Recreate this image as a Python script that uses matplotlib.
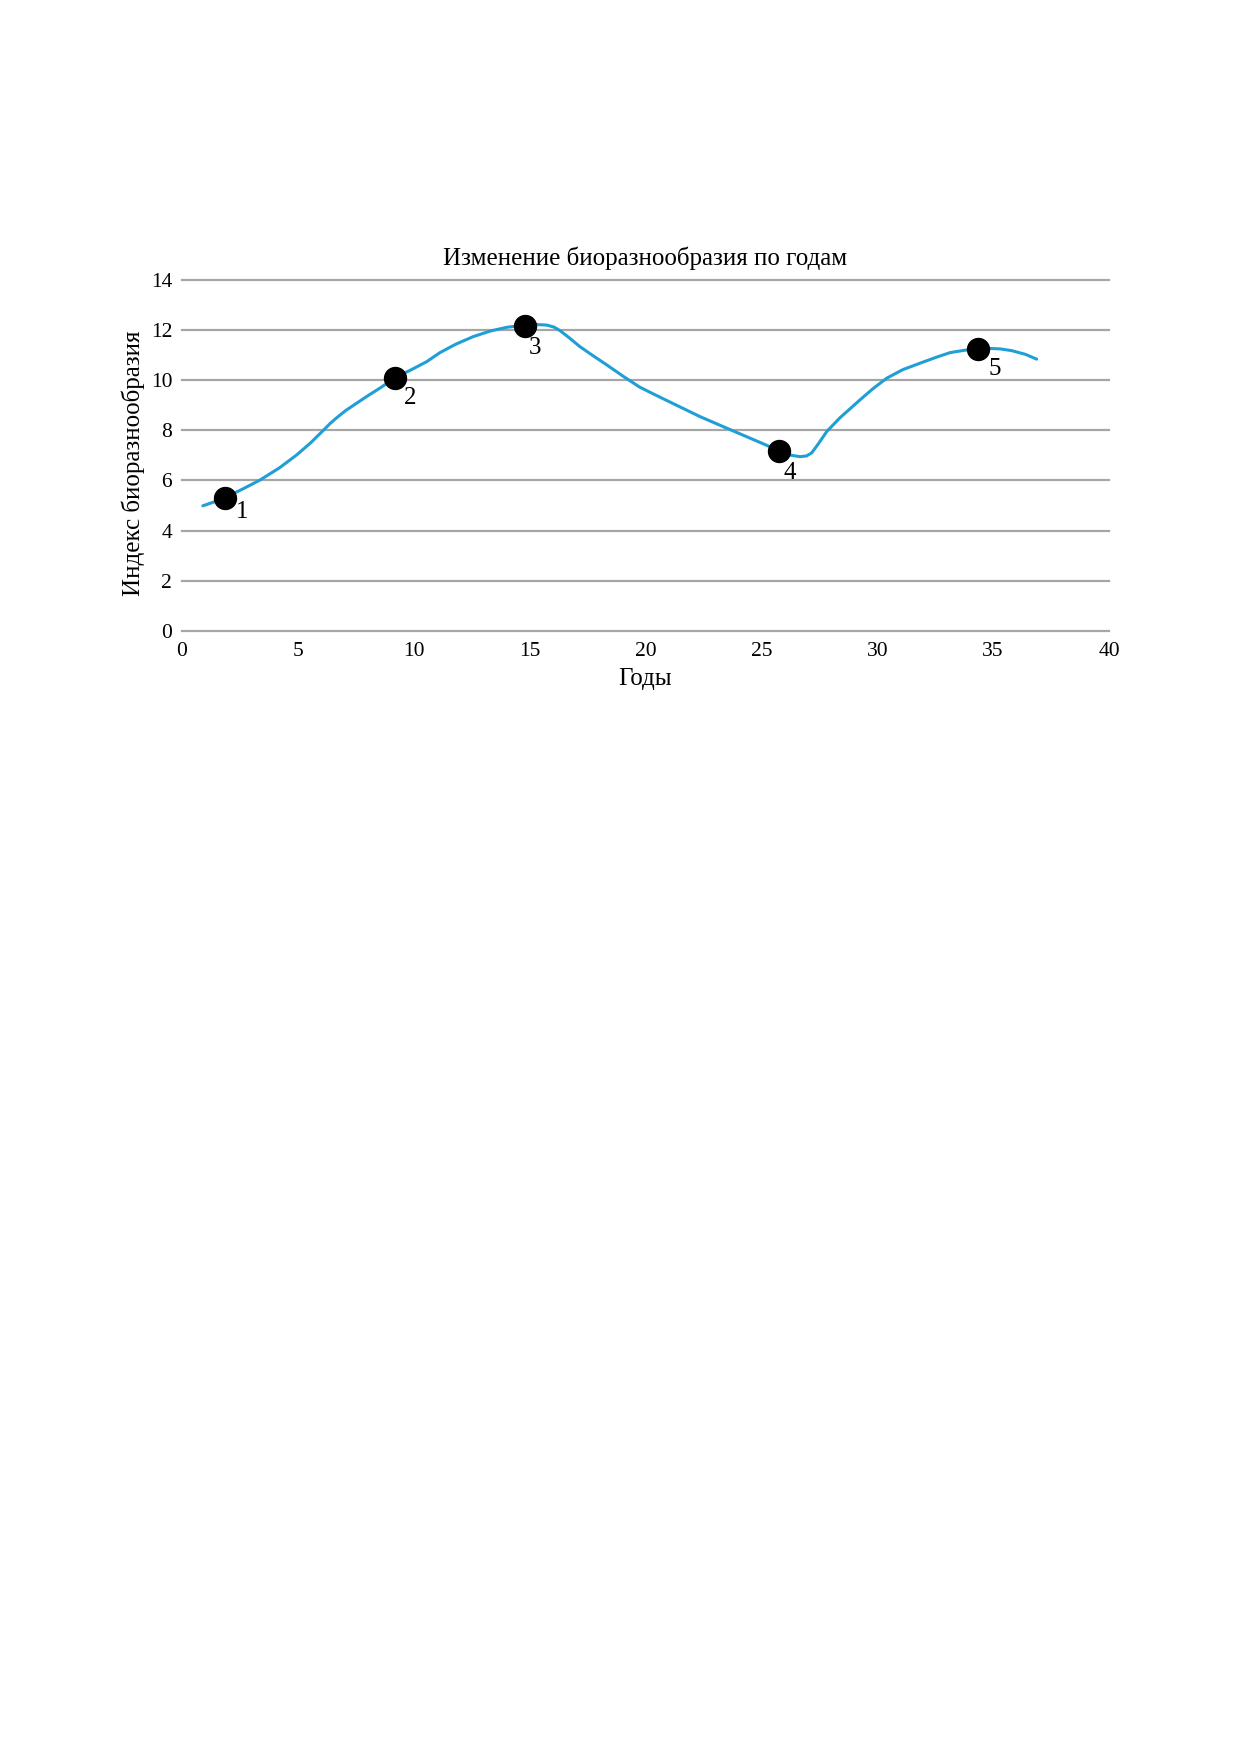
import matplotlib
matplotlib.use('Agg')
import matplotlib.pyplot as plt

# colours
BLUE = '#1f9fd6'
GRID = '#a6a6a6'

TITLE = 'Изменение биоразнообразия по годам'
X_LABEL = 'Годы'
Y_LABEL = 'Индекс биоразнообразия'

# curve
curve_x = [0.9, 1.4, 1.86, 2.6, 3.37, 4.2, 4.95, 5.55, 6.1, 6.4, 6.7, 7.05,
           7.5, 7.97, 8.6, 9.19, 9.9, 10.56, 11.13, 11.8, 12.57, 13.3, 14.01,
           14.8, 15.3, 15.74, 16.05, 16.31, 16.7, 17.17, 17.75, 18.33, 19.05,
           19.76, 20.5, 21.3, 22.35, 23.3, 24.08, 24.94, 25.76, 26.2, 26.67,
           26.95, 27.17, 27.45, 27.82, 28.39, 29.25, 29.8, 30.41, 31.1, 31.85,
           32.5, 33.14, 33.8, 34.33, 34.8, 35.3, 35.8, 36.4, 36.88]
curve_y = [4.99, 5.15, 5.32, 5.65, 6.02, 6.5, 7.02, 7.5, 8.0, 8.28, 8.52, 8.78,
           9.06, 9.35, 9.72, 10.1, 10.42, 10.74, 11.1, 11.43, 11.74, 11.96,
           12.11, 12.2, 12.22, 12.2, 12.12, 11.98, 11.7, 11.34, 10.97, 10.61,
           10.15, 9.72, 9.38, 9.02, 8.55, 8.17, 7.86, 7.52, 7.19, 7.02, 6.95,
           6.98, 7.1, 7.45, 7.95, 8.5, 9.21, 9.65, 10.08, 10.42, 10.68, 10.9,
           11.1, 11.2, 11.24, 11.27, 11.25, 11.18, 11.03, 10.84]

# marked points and their numbers
point_x = [1.86, 9.19, 14.8, 25.76, 34.33]
point_y = [5.32, 10.1, 12.18, 7.18, 11.24]
point_labels = ['1', '2', '3', '4', '5']
label_offsets = [(17, -14), (15, -20), (10, -22), (11, -22), (17, -20)]

x_ticks = [0, 5, 10, 15, 20, 25, 30, 35, 40]
y_ticks = [0, 2, 4, 6, 8, 10, 12, 14]

plt.rcParams['font.family'] = ['Liberation Serif', 'DejaVu Serif']

fig = plt.figure(figsize=(12.37, 17.54), dpi=100)
ax = fig.add_axes([0.1471, 0.6403, 0.7494, 0.2001])

# grid lines
for yv in y_ticks:
    ax.axhline(yv, color=GRID, linewidth=1.6, zorder=1, clip_on=False)

ax.plot(curve_x, curve_y, color=BLUE, linewidth=2.2, zorder=2,
        solid_joinstyle='round', solid_capstyle='round')
ax.scatter(point_x, point_y, s=250, color='black', zorder=3)

for px, py, lab, off in zip(point_x, point_y, point_labels, label_offsets):
    ax.annotate(lab, (px, py), xytext=off, textcoords='offset pixels',
                fontsize=18, ha='center', va='center', zorder=4)

ax.set_xlim(0, 40)
ax.set_ylim(0, 14)
ax.set_xticks(x_ticks)
ax.set_yticks(y_ticks)
ax.tick_params(length=0, labelsize=15.5)
ax.tick_params(axis='y', pad=7)
ax.tick_params(axis='x', pad=8)
for spine in ax.spines.values():
    spine.set_visible(False)

ax.set_title(TITLE, fontsize=18, pad=11)
ax.set_xlabel(X_LABEL, fontsize=18, labelpad=5)
ax.set_ylabel(Y_LABEL, fontsize=18, labelpad=4)
ax.yaxis.label.set_y(0.478)

plt.savefig('out.png', dpi=100)
